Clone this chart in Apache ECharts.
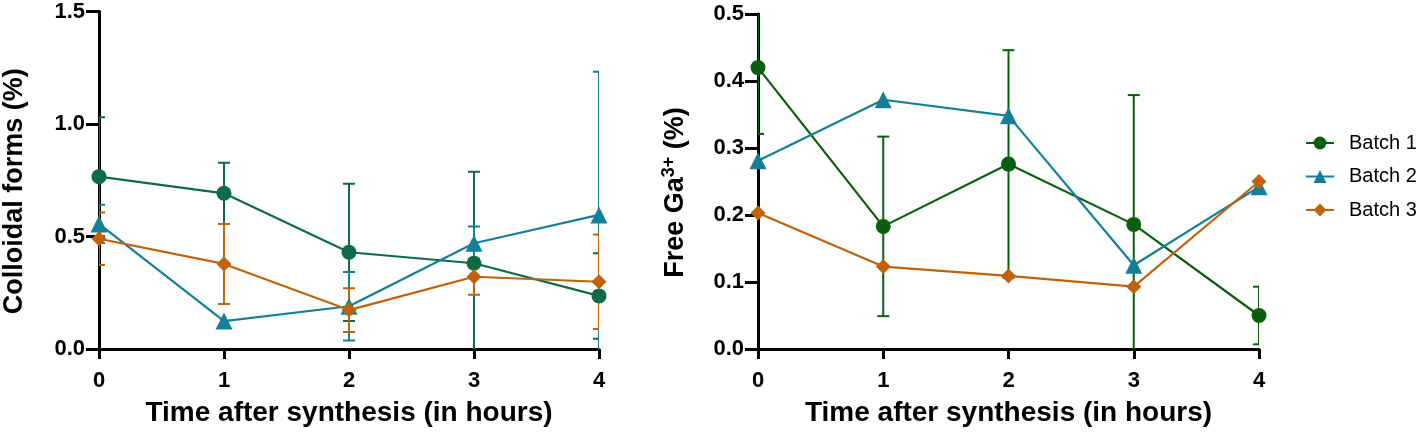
<!DOCTYPE html>
<html>
<head>
<meta charset="utf-8">
<script src="https://cdn.jsdelivr.net/npm/echarts@6/dist/echarts.min.js"></script>
<style>html,body{margin:0;padding:0;background:#fff}#c{width:1417px;height:437px}</style>
</head>
<body>
<div id="c"></div>
<script>
const hours = [0, 1, 2, 3, 4];
const seriesNames = ['Batch 1', 'Batch 2', 'Batch 3'];

// Left panel: Colloidal forms (%)
const colloidB1 = [0.766, 0.692, 0.430, 0.381, 0.236];
const colloidB1Err = [0.264, 0.136, 0.305, 0.407, 0.190];
const colloidB2 = [0.556, 0.124, 0.190, 0.470, 0.596];
const colloidB2Err = [0.085, 0.000, 0.152, 0.074, 0.636];
const colloidB3 = [0.490, 0.378, 0.173, 0.321, 0.299];
const colloidB3Err = [0.117, 0.178, 0.097, 0.080, 0.210];

// Right panel: Free Ga3+ (%)
const freeB1 = [0.420, 0.183, 0.276, 0.186, 0.050];
const freeB1Err = [0.099, 0.134, 0.170, 0.193, 0.043];
const freeB2 = [0.281, 0.372, 0.348, 0.125, 0.242];
const freeB2Err = [0, 0, 0, 0, 0];
const freeB3 = [0.203, 0.123, 0.109, 0.093, 0.250];
const freeB3Err = [0, 0, 0, 0, 0];

const leftTicks = [0, 0.5, 1.0, 1.5];
const rightTicks = [0, 0.1, 0.2, 0.3, 0.4, 0.5];

const FONT = '"Liberation Sans", Arial, sans-serif';
const cLeftGreen = '#0d6b47';
const cRightGreen = '#0b5e0d';
const cTeal = '#157f98';
const cOrange = '#c0620c';
const symbols = ['circle', 'triangle', 'diamond'];
const symSizes = [15, 17, 15];

function pairs(vals) { return hours.map((h, i) => [h, vals[i]]); }
function errData(vals, errs) { return hours.map((h, i) => [h, vals[i] - errs[i], vals[i] + errs[i], errs[i]]); }

function errSeries(idx, vals, errs, color) {
  return {
    type: 'custom', xAxisIndex: idx, yAxisIndex: idx, clip: true, z: 1, silent: true,
    data: errData(vals, errs),
    renderItem: function (params, api) {
      if (api.value(3) <= 0) return null;
      const x = api.value(0);
      const lo = api.coord([x, api.value(1)]);
      const hi = api.coord([x, api.value(2)]);
      const w = 6;
      const st = { stroke: color, lineWidth: 2 };
      return {
        type: 'group',
        children: [
          { type: 'line', shape: { x1: lo[0], y1: lo[1], x2: hi[0], y2: hi[1] }, style: st },
          { type: 'line', shape: { x1: lo[0] - w, y1: lo[1], x2: lo[0] + w, y2: lo[1] }, style: st },
          { type: 'line', shape: { x1: hi[0] - w, y1: hi[1], x2: hi[0] + w, y2: hi[1] }, style: st }
        ]
      };
    }
  };
}
function lineSeries(idx, k, vals, color) {
  return {
    name: seriesNames[k], type: 'line', xAxisIndex: idx, yAxisIndex: idx, z: 3,
    data: pairs(vals), symbol: symbols[k], symbolSize: symSizes[k],
    showAllSymbol: true,
    lineStyle: { color: color, width: 2.2 }, itemStyle: { color: color, borderWidth: 0 },
    emphasis: { disabled: true }, animation: false
  };
}

function xAxisCfg(idx) {
  return {
    type: 'value', gridIndex: idx, min: 0, max: 4, interval: 1,
    name: 'Time after synthesis (in hours)', nameLocation: 'middle', nameGap: 50,
    nameTextStyle: { fontFamily: FONT, fontWeight: 'bold', fontSize: 28, color: '#000' },
    axisLine: { show: true, onZero: false, lineStyle: { color: '#000', width: 3 } },
    axisTick: { show: true, length: 10, lineStyle: { color: '#000', width: 3 } },
    axisLabel: { fontFamily: FONT, fontWeight: 'bold', fontSize: 22, color: '#000', margin: 21 },
    splitLine: { show: false }
  };
}
function yAxisCfg(idx, ticks, nameCfg) {
  return Object.assign({
    type: 'value', gridIndex: idx, min: ticks[0], max: ticks[ticks.length - 1],
    interval: ticks[1] - ticks[0],
    nameLocation: 'middle',
    axisLine: { show: true, onZero: false, lineStyle: { color: '#000', width: 3 } },
    axisTick: { show: true, length: 13, lineStyle: { color: '#000', width: 3 } },
    axisLabel: { fontFamily: FONT, fontWeight: 'bold', fontSize: 22, color: '#000', margin: 14,
      formatter: v => v.toFixed(1) },
    splitLine: { show: false }
  }, nameCfg);
}

const chart = echarts.init(document.getElementById('c'));
chart.setOption({
  animation: false,
  backgroundColor: '#fff',
  grid: [
    { left: 96, top: 11.5, width: 503, height: 337.5, containLabel: false },
    { left: 758, top: 14, width: 501, height: 335, containLabel: false }
  ],
  xAxis: [xAxisCfg(0), xAxisCfg(1)],
  yAxis: [
    yAxisCfg(0, leftTicks, {
      name: 'Colloidal forms (%)', nameGap: 71,
      nameTextStyle: { fontFamily: FONT, fontWeight: 'bold', fontSize: 27, color: '#000', padding: [0, 22, 0, 0] }
    }),
    yAxisCfg(1, rightTicks, {
      name: '{a|Free Ga}{s|3+}{a| (%)}', nameGap: 66,
      nameTextStyle: {
        fontFamily: FONT, fontWeight: 'bold', fontSize: 27, color: '#000', padding: [0, 22, 0, 0],
        rich: {
          a: { fontFamily: FONT, fontWeight: 'bold', fontSize: 27, color: '#000' },
          s: { fontFamily: FONT, fontWeight: 'bold', fontSize: 18, color: '#000', padding: [0, 0, 14, 0] }
        }
      }
    })
  ],
  legend: {
    orient: 'vertical', left: 1305, top: 133, padding: 0, itemWidth: 28, itemHeight: 16, itemGap: 13.5,
    data: seriesNames,
    textStyle: { fontFamily: FONT, fontSize: 20, lineHeight: 20, color: '#000', padding: [0, 0, 0, 10] },
    selectedMode: false
  },
  series: [
    errSeries(1, freeB1, freeB1Err, cRightGreen),
    errSeries(1, freeB2, freeB2Err, cTeal),
    errSeries(1, freeB3, freeB3Err, cOrange),
    lineSeries(1, 0, freeB1, cRightGreen),
    lineSeries(1, 1, freeB2, cTeal),
    lineSeries(1, 2, freeB3, cOrange),
    errSeries(0, colloidB1, colloidB1Err, cLeftGreen),
    errSeries(0, colloidB2, colloidB2Err, cTeal),
    errSeries(0, colloidB3, colloidB3Err, cOrange),
    lineSeries(0, 0, colloidB1, cLeftGreen),
    lineSeries(0, 1, colloidB2, cTeal),
    lineSeries(0, 2, colloidB3, cOrange)
  ]
});
</script>
</body>
</html>
